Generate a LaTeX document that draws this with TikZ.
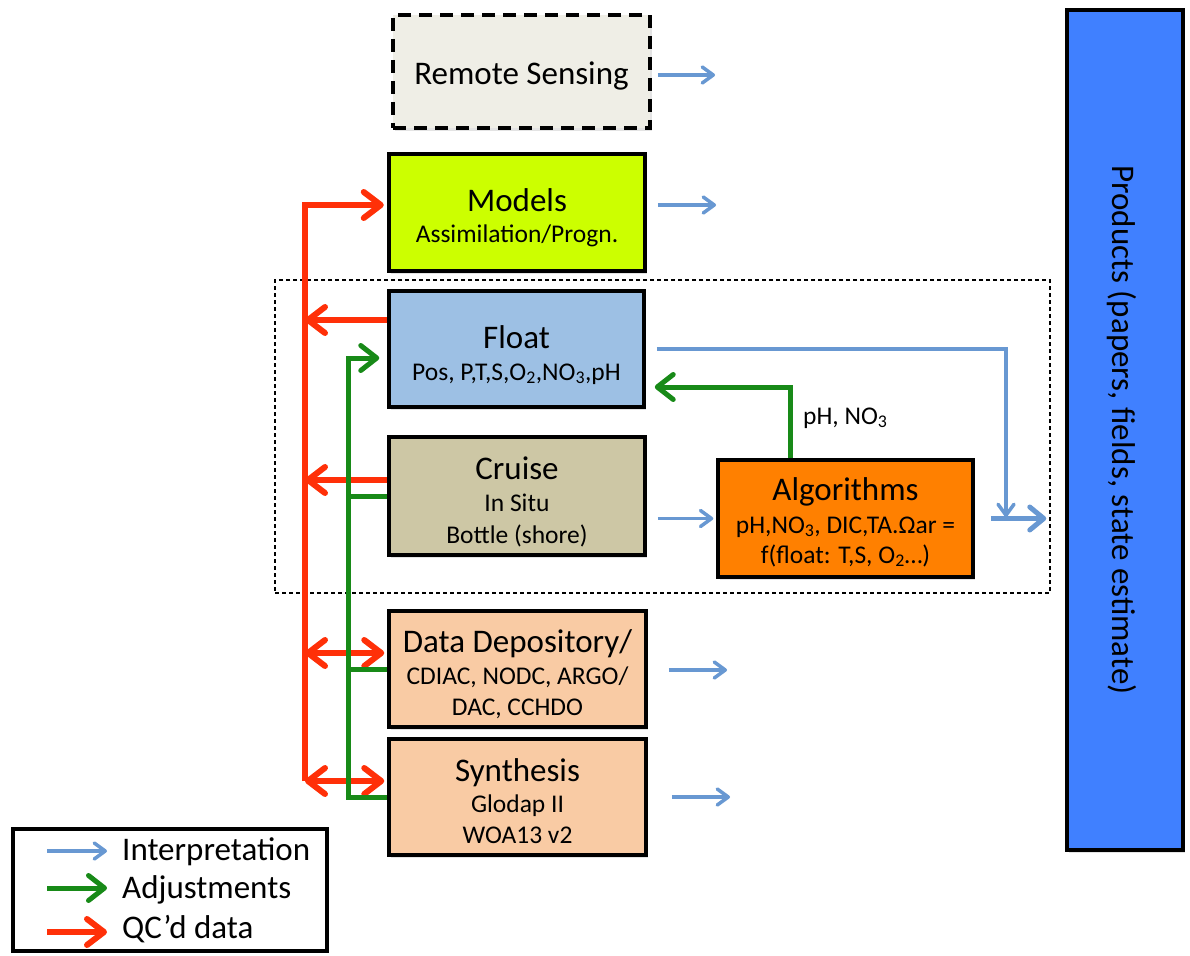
\documentclass[tikz,border=0pt]{standalone}
\usepackage{fontspec}
\setmainfont{Carlito}
\usetikzlibrary{arrows.meta,shadows}

\definecolor{limebox}{RGB}{204,255,0}
\definecolor{floatblue}{RGB}{157,192,228}
\definecolor{cruisetan}{RGB}{205,199,165}
\definecolor{peach}{RGB}{249,203,164}
\definecolor{algoorange}{RGB}{255,128,0}
\definecolor{prodblue}{RGB}{64,128,255}
\definecolor{remotegray}{RGB}{239,238,230}
\definecolor{interpblue}{RGB}{104,152,210}
\definecolor{adjgreen}{RGB}{24,138,24}
\definecolor{qcred}{RGB}{255,48,8}

\newcommand\ttlfont{\fontsize{33}{38}\selectfont}
\newcommand\subfont{\fontsize{25.5}{30}\selectfont}

\begin{document}
\begin{tikzpicture}[x=1pt,y=-1pt,
  box/.style={draw=black, line width=3.5pt, inner sep=0pt,
    drop shadow={shadow xshift=2pt, shadow yshift=-3pt, opacity=0.22}},
  ttl/.style={anchor=base, font=\ttlfont, inner sep=0pt},
  sub/.style={anchor=base, font=\subfont, inner sep=0pt},
  interp/.style={draw=interpblue, line width=3.5pt,
    -{Straight Barb[length=11pt,width=16pt,round]}},
  interpbig/.style={draw=interpblue, line width=5pt,
    -{Straight Barb[length=14pt,width=23pt,round]}},
  adjline/.style={draw=adjgreen, line width=5pt},
  adj/.style={adjline, -{Straight Barb[length=16pt,width=25pt,round]}},
  qcline/.style={draw=qcred, line width=6pt},
  qc/.style={qcline, -{Straight Barb[length=17pt,width=26pt,round]}},
  qcboth/.style={qcline, {Straight Barb[length=17pt,width=26pt,round]}-{Straight Barb[length=17pt,width=26pt,round]}},
]
\fill[white] (0,0) rectangle (1190,955);
\useasboundingbox (0,0) rectangle (1190,955);

% dashed frame around the float / cruise / algorithms group
\node[draw, line width=1.2pt, dash pattern=on 4pt off 3pt,
      minimum width=775, minimum height=313, inner sep=0pt] (group) at (662.5,436.5) {};

% ---- boxes ----
\node[box, fill=remotegray, dash pattern=on 13pt off 8pt,
      minimum width=257, minimum height=113] (remote) at (521.5,71.5) {};
\node[ttl] (remote-t) at (521.5,85) {Remote Sensing};

\node[box, fill=limebox, minimum width=256, minimum height=117] (models) at (517,212.5) {};
\node[ttl] (models-t) at (517,211) {Models};
\node[sub] (models-s) at (517,242) {Assimilation/Progn.};

\node[box, fill=floatblue, minimum width=255, minimum height=116] (float) at (516.5,349) {};
\node[ttl] (float-t) at (516.5,348) {Float};
\node[sub] (float-s) at (516.5,380) {Pos, P,T,S,O\textsubscript{2},NO\textsubscript{3},pH};

\node[box, fill=cruisetan, minimum width=256, minimum height=118] (cruise) at (517,496) {};
\node[ttl] (cruise-t) at (517,479) {Cruise};
\node[sub] (cruise-s1) at (517,511) {In Situ};
\node[sub] (cruise-s2) at (517,543) {Bottle (shore)};

\node[box, fill=peach, minimum width=257, minimum height=116] (datadep) at (517.5,669) {};
\node[ttl] (datadep-t) at (517.5,652) {Data Depository/};
\node[sub] (datadep-s1) at (517.5,684) {CDIAC, NODC, ARGO/};
\node[sub] (datadep-s2) at (517.5,715) {DAC, CCHDO};

\node[box, fill=peach, minimum width=257, minimum height=116] (synth) at (517.5,797) {};
\node[ttl] (synth-t) at (517.5,781) {Synthesis};
\node[sub] (synth-s1) at (517.5,812) {Glodap II};
\node[sub] (synth-s2) at (517.5,843) {WOA13 v2};

\node[box, fill=algoorange, minimum width=255, minimum height=117] (algo) at (845.5,518.5) {};
\node[ttl] (algo-t) at (845.5,500) {Algorithms};
\node[sub] (algo-s1) at (845.5,533) {pH,NO\textsubscript{3}, DIC,TA.Ωar =};
\node[sub] (algo-s2) at (845.5,563) {f(float: T,S, O\textsubscript{2}…)};

\node[box, fill=prodblue, minimum width=116, minimum height=840] (products) at (1125,430) {};
\node[ttl, rotate=-90] (products-t) at (1112,430) {Products (papers, fields, state estimate)};

% ---- QC'd data (red) ----
\coordinate (rbus-top) at (305,205);
\coordinate (rbus-bot) at (305,781);
\draw[qc, shorten >=3.5pt] (rbus-bot) -- (rbus-top) -- (rbus-top -| models.west);
\coordinate (fl-q) at ([yshift=29pt]float.west);
\coordinate (cr-q) at ([yshift=16pt]cruise.west);
\coordinate (dd-q) at ([yshift=16pt]datadep.west);
\coordinate (sy-q) at ([yshift=16pt]synth.west);
\draw[qc] (fl-q) -- (fl-q -| rbus-top);
\draw[qc] (cr-q) -- (cr-q -| rbus-top);
\draw[qcboth, shorten >=3pt] (dd-q -| rbus-top) -- (dd-q);
\draw[qcboth, shorten >=3pt] (sy-q -| rbus-top) -- (sy-q);

% ---- Adjustments (green) ----
\coordinate (gbus-top) at (348,358);
\draw[adj, shorten >=8pt] (synth.west) -- (synth.west -| gbus-top) -- (gbus-top) -- (gbus-top -| float.west);
\draw[adjline] (cruise.west) -- (cruise.west -| gbus-top);
\draw[adjline] (datadep.west) -- (datadep.west -| gbus-top);
\coordinate (adj-turn) at (790,387);
\node[anchor=base west, font=\subfont, inner sep=0pt] (adj-label) at (803,424) {pH, NO\textsubscript{3}};
\draw[adj, shorten >=9pt] (algo.north -| adj-turn) -- (adj-turn) -- (adj-turn -| float.east);

% ---- Interpretation (blue) ----
\coordinate (rs-out) at (715,75);
\coordinate (mo-out) at (716,205);
\coordinate (dd-out) at (727,670);
\coordinate (sy-out) at (730,797);
\coordinate (fl-in) at (1006,517);
\draw[interp, shorten <=6pt] (remote.east |- rs-out) -- (rs-out);
\draw[interp, shorten <=11pt] (models.east |- mo-out) -- (mo-out);
\draw[interp, shorten <=11pt] (float.east) -| (fl-in);
\draw[interp, shorten <=11pt, shorten >=3pt] (cruise.east |- algo.west) -- (algo.west);
\draw[interp, shorten <=21pt] (datadep.east |- dd-out) -- (dd-out);
\draw[interp, shorten <=24pt] (synth.east |- sy-out) -- (sy-out);
\draw[interpbig, shorten <=16pt, shorten >=19pt] (algo.east) -- (algo.east -| products.west);

% ---- legend ----
\node[draw=black, line width=3.5pt, fill=white, minimum width=314, minimum height=122,
      inner sep=0pt] (legend) at (170,890) {};
\coordinate (lg-b1) at (47,851);  \coordinate (lg-b2) at (107,851);
\coordinate (lg-g1) at (47,888);  \coordinate (lg-g2) at (107,888);
\coordinate (lg-r1) at (47,932);  \coordinate (lg-r2) at (107,932);
\draw[interp] (lg-b1) -- (lg-b2);
\draw[adj] (lg-g1) -- (lg-g2);
\draw[qc] (lg-r1) -- (lg-r2);
\node[anchor=base west, font=\ttlfont, inner sep=0pt] (lg-t1) at (122,860) {Interpretation};
\node[anchor=base west, font=\ttlfont, inner sep=0pt] (lg-t2) at (122,898) {Adjustments};
\node[anchor=base west, font=\ttlfont, inner sep=0pt] (lg-t3) at (122,938) {QC’d data};
\end{tikzpicture}
\end{document}
